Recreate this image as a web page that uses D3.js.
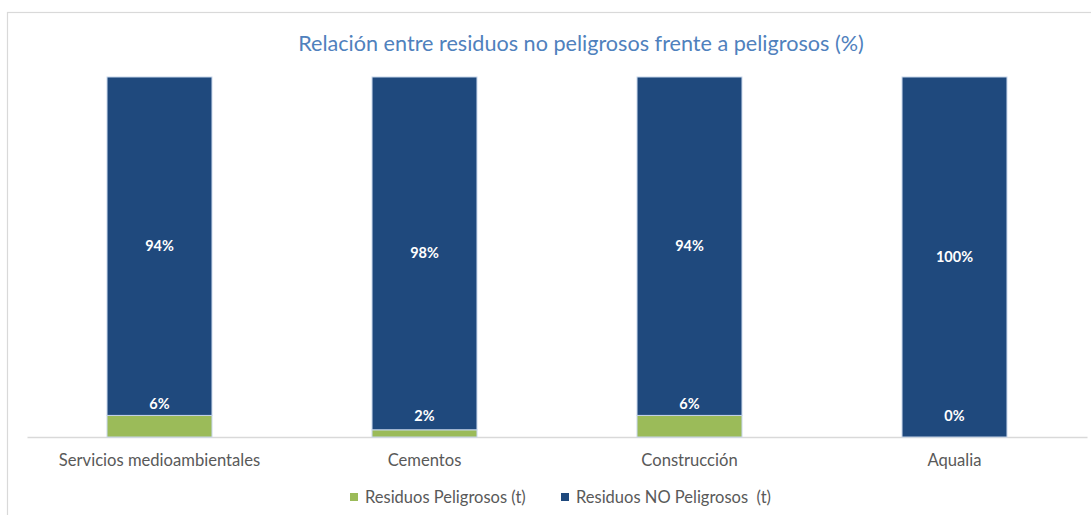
<!DOCTYPE html>
<html>
<head>
<meta charset="utf-8">
<script src="https://cdn.jsdelivr.net/npm/d3@7"></script>
<style>
  html, body { margin: 0; padding: 0; background: #fff; }
  svg { display: block; }
  text { font-family: Lato, "Open Sans", sans-serif; }
</style>
</head>
<body>
<svg id="chart" width="1091" height="515"></svg>
<script>
// Share of waste by type for each business area (%)
const categories = ["Servicios medioambientales", "Cementos", "Construcción", "Aqualia"];
const peligrosos = [6, 2, 6, 0];
const noPeligrosos = [94, 98, 94, 100];
const seriesNames = ["Residuos Peligrosos (t)", "Residuos NO Peligrosos  (t)"];
const yTicks = [0, 100];
const title = "Relación entre residuos no peligrosos frente a peligrosos (%)";

const W = 1091, H = 515;
const margin = { left: 27, right: 4, top: 77, bottom: 78 };
const colors = ["#9BBB59", "#1F497D"];

const svg = d3.select("#chart");

// chart frame
svg.append("rect")
  .attr("x", 7.5).attr("y", 12.5)
  .attr("width", W + 20).attr("height", H + 20)
  .attr("fill", "#fff").attr("stroke", "#d9d9d9").attr("stroke-width", 1.2);

const x = d3.scaleBand()
  .domain(categories)
  .range([margin.left, W - margin.right])
  .paddingInner(0.604).paddingOuter(0.302);

const y = d3.scaleLinear()
  .domain(d3.extent(yTicks))
  .range([H - margin.bottom, margin.top]);

const rows = categories.map((c, i) => ({ cat: c, p: peligrosos[i], np: noPeligrosos[i] }));
const stack = d3.stack().keys(["p", "np"])(rows);

// title
svg.append("text")
  .attr("x", 581).attr("y", 51)
  .attr("text-anchor", "middle")
  .attr("fill", "#4F81BD")
  .style("font-size", "21.6px")
  .text(title);

// baseline axis
const xAxis = d3.axisBottom(x).tickSize(0).tickPadding(17);
const gx = svg.append("g")
  .attr("transform", `translate(0,${y(0)})`)
  .call(xAxis);
gx.select(".domain").attr("stroke", "#d9d9d9").attr("stroke-width", 1.3);
gx.selectAll(".tick text")
  .attr("fill", "#595959")
  .style("font-size", "16.6px")
  .style("font-family", "Lato, sans-serif");

// stacked bars
const layers = svg.append("g").selectAll("g")
  .data(stack)
  .join("g")
  .attr("fill", (d, i) => colors[i]);

layers.selectAll("rect")
  .data(d => d)
  .join("rect")
  .attr("x", d => x(d.data.cat))
  .attr("width", x.bandwidth())
  .attr("y", d => y(d[1]))
  .attr("height", d => y(d[0]) - y(d[1]))
  .attr("stroke", "#c6d5ea")
  .attr("stroke-width", 1);

// value labels
const labels = svg.append("g")
  .attr("fill", "#ffffff")
  .attr("text-anchor", "middle")
  .style("font-size", "14.5px")
  .style("font-weight", "bold");

// non-hazardous share: centred in its segment
labels.selectAll(".np")
  .data(stack[1])
  .join("text")
  .attr("class", "np")
  .attr("x", d => x(d.data.cat) + x.bandwidth() / 2)
  .attr("y", d => (y(d[0]) + y(d[1])) / 2)
  .attr("dy", "0.35em")
  .text(d => d.data.np + "%");

// hazardous share: just above its segment
labels.selectAll(".p")
  .data(stack[0])
  .join("text")
  .attr("class", "p")
  .attr("x", d => x(d.data.cat) + x.bandwidth() / 2)
  .attr("y", d => Math.min(y(d[1]) - 11, y(0) - 21))
  .attr("dy", "0.35em")
  .text(d => d.data.p + "%");

// legend
const legend = svg.append("g").attr("transform", "translate(0,497)");
const legX = [350, 561];
seriesNames.forEach((name, i) => {
  const g = legend.append("g").attr("transform", `translate(${legX[i]},0)`);
  g.append("rect").attr("x", 0).attr("y", -4).attr("width", 8).attr("height", 8).attr("fill", colors[i]);
  g.append("text").attr("x", 15).attr("y", 0).attr("dy", "0.35em")
    .attr("fill", "#595959").style("font-size", "16.5px").style("white-space", "pre")
    .attr("xml:space", "preserve")
    .text(name);
});
</script>
</body>
</html>
